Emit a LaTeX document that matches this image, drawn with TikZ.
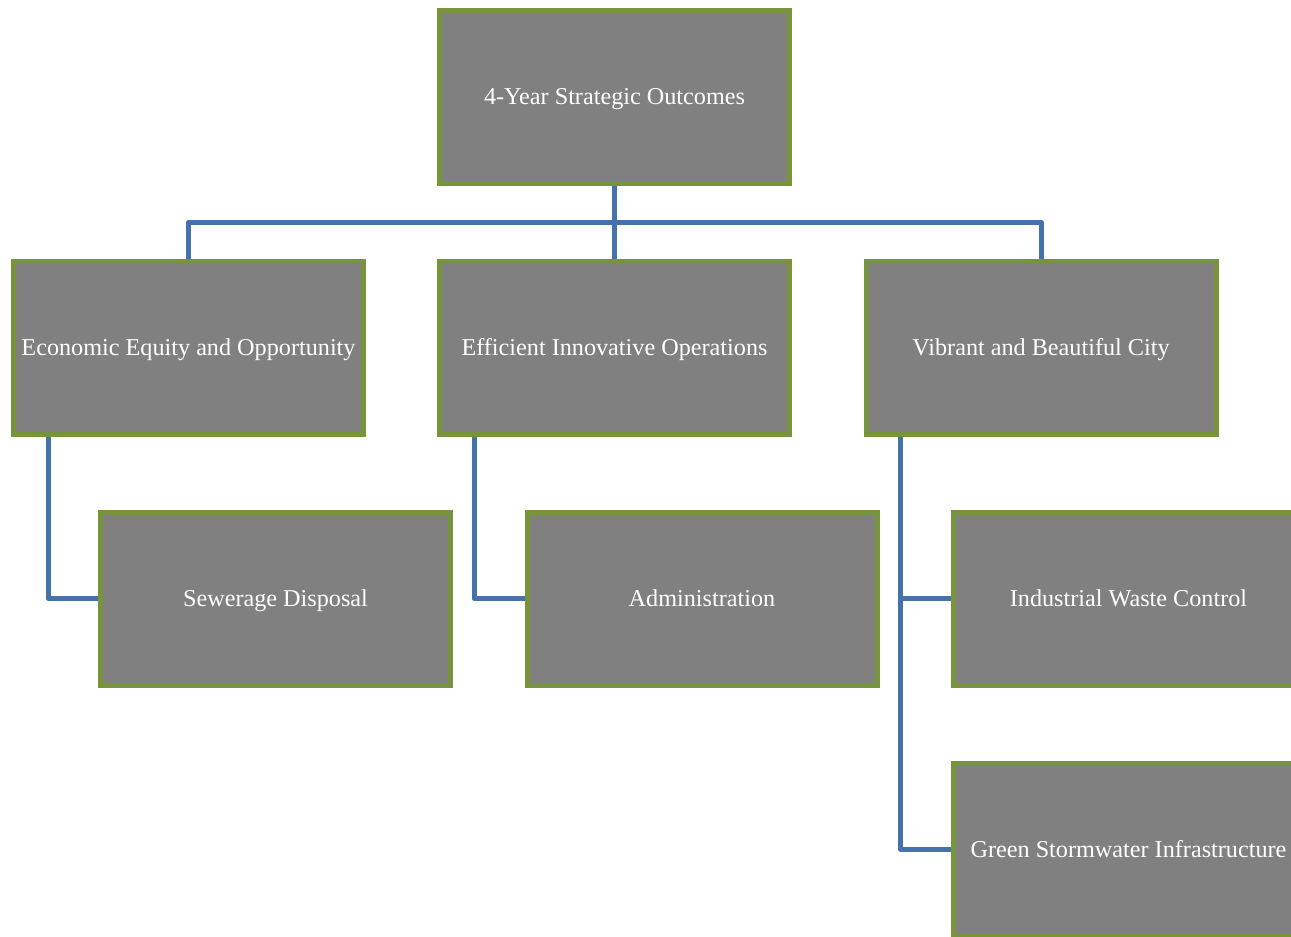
\documentclass[tikz,border=0pt]{standalone}
\usepackage{fontspec}
\setmainfont{Liberation Serif}
\definecolor{boxgray}{HTML}{808080}
\definecolor{boxgreen}{HTML}{77933C}
\definecolor{linkblue}{HTML}{4672AB}
\begin{document}
\begin{tikzpicture}[x=1pt,y=-1pt,
  orgbox/.style={rectangle, draw=boxgreen, line width=5pt, fill=boxgray,
    minimum width=350pt, minimum height=173pt, inner sep=0pt,
    text=white, font=\fontsize{24.2}{28}\selectfont},
  orglabel/.style={orgbox, text height=16pt, text depth=5pt, yshift=-2pt, draw=none, fill=none},
  link/.style={draw=linkblue, line width=5pt, line join=round}]
\useasboundingbox (0,0) rectangle (1291,937);
\clip (0,0) rectangle (1291,937);
\coordinate (bar) at (614.5,222);
\node[orgbox] (top) at (614.5,97) {};
\node[orgbox] (c1) at (188.5,347.5) {};
\node[orgbox] (c2) at (614.5,347.5) {};
\node[orgbox] (c3) at (1041,347.5) {};
\node[orgbox] (s1) at (275.5,598.5) {};
\node[orgbox] (s2) at (702,598.5) {};
\node[orgbox] (s3) at (1128.5,598.5) {};
\node[orgbox] (s4) at (1128.5,849.5) {};
\draw[link] (top.south) -- (bar) -| (c1.north);
\draw[link] (bar) -| (c3.north);
\draw[link] (bar) -- (c2.north);
\draw[link] ([xshift=37pt]c1.south west) |- (s1.west);
\draw[link] ([xshift=37pt]c2.south west) |- (s2.west);
\draw[link] ([xshift=37pt]c3.south west) |- (s3.west);
\draw[link] ([xshift=37pt]c3.south west) |- (s4.west);
\node[orglabel] at (top) {4-Year Strategic Outcomes};
\node[orglabel] at (c1) {Economic Equity and Opportunity};
\node[orglabel] at (c2) {Efficient Innovative Operations};
\node[orglabel] at (c3) {Vibrant and Beautiful City};
\node[orglabel] at (s1) {Sewerage Disposal};
\node[orglabel] at (s2) {Administration};
\node[orglabel] at (s3) {Industrial Waste Control};
\node[orglabel] at (s4) {Green Stormwater Infrastructure};
\end{tikzpicture}
\end{document}
